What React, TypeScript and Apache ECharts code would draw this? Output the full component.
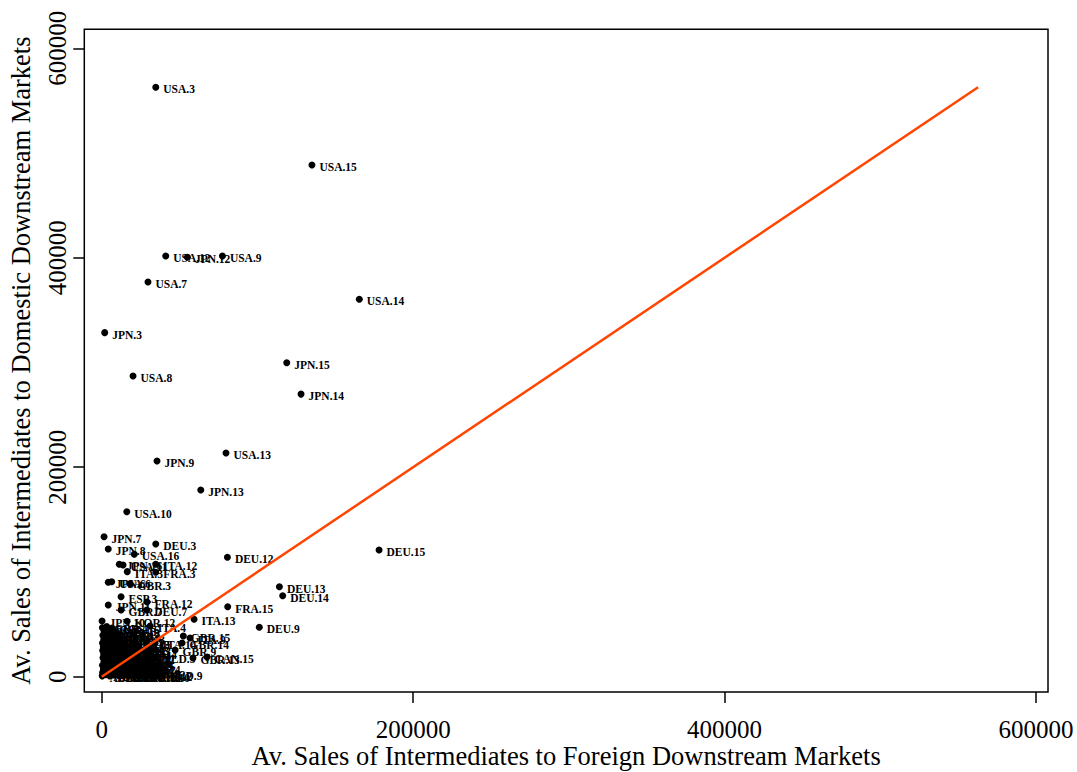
import { useEffect, useRef } from "react";
import * as echarts from "echarts";

// Labelled outliers (industry = country.sector)
const outlierLabels = [
  "USA.3", "USA.15", "USA.12", "JPN.12", "USA.9", "USA.7", "JPN.3", "USA.8",
  "JPN.15", "JPN.14", "USA.14", "USA.13", "JPN.9", "JPN.13", "USA.10", "DEU.15",
  "DEU.12", "DEU.13", "DEU.14", "FRA.15", "DEU.9", "ITA.13", "JPN.7", "JPN.8",
  "DEU.3", "USA.16", "JPN.16", "USA.11", "ITA.12", "ITA.3", "FRA.3", "JPN.6",
  "USA.6", "GBR.3", "ESP.3", "FRA.12", "JPN.11", "GBR.7", "DEU.7", "JPN.10",
  "KOR.12", "ITA.4", "GBR.15", "ITA.9", "ITA.14", "GBR.14", "GBR.9", "NLD.5",
  "GBR.13", "CAN.15", "NLD.9",
];
const outlierForeign = [
  34700, 135000, 41100, 55000, 77500, 29700, 1900, 20100,
  118800, 128000, 165400, 79800, 35500, 63600, 16100, 178100,
  80700, 114100, 116200, 80900, 101200, 59300, 1500, 4200,
  34700, 20900, 11300, 13700, 34700, 16400, 34700, 4200,
  6400, 18200, 12400, 29100, 4200, 12400, 28900, 200,
  16300, 31100, 52400, 56700, 34200, 51600, 47100, 34200,
  58600, 67600, 38700,
];
const outlierDomestic = [
  562800, 488600, 401700, 400400, 401700, 376800, 328500, 287100,
  299800, 269800, 360300, 213600, 206000, 178300, 157500, 121000,
  114000, 85900, 77300, 66800, 47200, 54800, 133700, 121900,
  126700, 116900, 107300, 106700, 107300, 100300, 99700, 90100,
  90700, 88500, 76400, 71300, 68500, 63700, 63700, 53100,
  53000, 48400, 38900, 36900, 32200, 32200, 25500, 18800,
  17900, 18800, 2600,
];

// Dense cluster near the origin
const clusterLabels = [
  "AUS.3", "AUT.9", "BEL.12", "BRA.4", "CZE.13", "CHN.6", "DNK.13", "TUR.16", "FIN.12", "FRA.10", "IRL.12",
  "TWN.9", "HUN.5", "BEL.3", "POL.6", "CAN.8", "RUS.12", "PRT.3", "MEX.9", "IDN.12",
  "AUS.9", "AUT.12", "GRC.3", "BRA.13", "CAN.9", "CHN.12", "DNK.7", "ESP.14",
  "IND.13", "SVK.12", "BEL.13", "BRA.12", "CAN.12", "CHN.13", "DNK.9", "ESP.9",
  "AUS.12", "AUT.13", "GRC.12", "KOR.6", "SWE.14", "TUR.4", "IND.9",
  "SVN.9", "AUT.3", "BEL.9", "BRA.3", "CAN.13", "CHN.9", "ESP.12",
  "AUS.13", "AUT.14", "BEL.14", "BRA.14", "CAN.14", "CHN.14",
  "AUS.14", "POL.12", "MEX.12", "TWN.12", "KOR.9", "ESP.13",
  "AUS.15", "AUT.15", "BEL.15", "BRA.15", "CHN.15",
  "IDN.3", "ROM.12", "IRL.9", "SWE.12", "KOR.13",
  "TUR.12", "RUS.9", "MEX.13", "NLD.13",
  "TWN.13", "IND.12", "KOR.14", "ESP.15",
  "CAN.3", "SWE.13", "NLD.12",
  "JPN.4", "GBR.4", "CHN.16",
];
const clusterForeign = [
  300, 2500, 5200, 8100, 11000, 14200, 17500, 20800, 24000, 27500, 31000,
  600, 3400, 6300, 9400, 12600, 15900, 19300, 22600, 26200,
  1100, 4000, 7200, 10500, 13800, 17100, 20400, 23700,
  500, 3100, 6000, 9200, 12400, 15600, 19000, 22300,
  1400, 4300, 7500, 10800, 14100, 17400, 20700,
  800, 3700, 6800, 10100, 13300, 16600, 19900,
  1200, 4600, 7900, 11300, 14600, 17800,
  600, 3500, 6700, 9900, 13200, 16400,
  1000, 4100, 7300, 10600, 13900,
  500, 3300, 6500, 9800, 13000,
  1300, 4500, 7800, 11000,
  700, 3800, 7000, 10200,
  1500, 4700, 8000,
  400, 3200, 6600,
];
const clusterDomestic = [
  800, 1800, 600, 2100, 900, 1600, 500, 1900, 1100, 700, 1500,
  4200, 5100, 3900, 4800, 3600, 5200, 4100, 4700, 3800,
  7600, 8500, 7300, 8800, 7700, 8300, 7100, 8600,
  11000, 12200, 10800, 11900, 11200, 12400, 10900, 11700,
  14600, 15600, 14300, 15400, 14800, 15900, 14500,
  18100, 19200, 17800, 18900, 18300, 19400, 18000,
  21600, 22700, 21400, 22500, 21900, 23000,
  25100, 26300, 24900, 26000, 25400, 26500,
  28700, 29800, 28400, 29500, 28900,
  32100, 33400, 32000, 33000, 32400,
  35700, 36800, 35500, 36600,
  39600, 40700, 39300, 40400,
  43200, 44300, 42900,
  46800, 47900, 46500,
];

const xTicks = [0, 200000, 400000, 600000];
const yTicks = [0, 200000, 400000, 600000];

const xTitle = "Av. Sales of Intermediates to Foreign Downstream Markets";
const yTitle = "Av. Sales of Intermediates to Domestic Downstream Markets";

const FONT = "'Liberation Serif', 'Times New Roman', serif";

export default function App() {
  const ref = useRef<HTMLDivElement>(null);

  useEffect(() => {
    if (!ref.current) return;
    const chart = echarts.init(ref.current, null, { renderer: "svg" });

    const toItems = (labels: string[], xs: number[], ys: number[]) =>
      labels.map((name, i) => ({ name, value: [xs[i], ys[i]] }));

    const allDomestic = [...outlierDomestic, ...clusterDomestic];
    const lineEnd = Math.max(...allDomestic);

    const pointLabel = {
      show: true,
      position: "right" as const,
      distance: 4,
      offset: [0, 2],
      formatter: "{b}",
      fontFamily: FONT,
      fontSize: 11.5,
      fontWeight: "bold" as const,
      color: "#000",
    };

    const plain = (v: number) => String(v);

    const axisCommon = {
      type: "value" as const,
      splitLine: { show: false },
      axisLine: { show: false, onZero: false },
      nameLocation: "middle" as const,
      nameMoveOverlap: false,
      nameTextStyle: { fontFamily: FONT, fontSize: 26.5, color: "#000" },
    };

    chart.setOption({
      animation: false,
      backgroundColor: "#fff",
      grid: {
        left: 84.3,
        right: 29,
        top: 29.3,
        bottom: 80,
        containLabel: false,
        outerBoundsMode: "none",
        show: true,
        borderColor: "#000",
        borderWidth: 1.5,
        backgroundColor: "transparent",
      },
      xAxis: {
        ...axisCommon,
        min: -11200,
        max: 607700,
        name: xTitle,
        nameGap: 50,
        axisTick: {
          show: true,
          length: 11,
          customValues: xTicks,
          lineStyle: { color: "#000", width: 1.5 },
        },
        axisLabel: {
          customValues: xTicks,
          formatter: plain,
          fontFamily: FONT,
          fontSize: 25,
          color: "#000",
          margin: 25,
        },
      },
      yAxis: {
        ...axisCommon,
        min: -14600,
        max: 618100,
        name: yTitle,
        nameGap: 50,
        axisTick: {
          show: true,
          length: 11,
          customValues: yTicks,
          lineStyle: { color: "#000", width: 1.5 },
        },
        axisLabel: {
          customValues: yTicks,
          formatter: plain,
          fontFamily: FONT,
          fontSize: 25,
          color: "#000",
          rotate: 90,
          margin: 14,
        },
      },
      series: [
        {
          type: "scatter",
          symbolSize: 7,
          itemStyle: { color: "#000", opacity: 1 },
          label: pointLabel,
          silent: true,
          data: toItems(clusterLabels, clusterForeign, clusterDomestic),
          z: 2,
        },
        {
          type: "scatter",
          symbolSize: 7,
          itemStyle: { color: "#000", opacity: 1 },
          label: pointLabel,
          silent: true,
          data: toItems(outlierLabels, outlierForeign, outlierDomestic),
          z: 3,
        },
        {
          type: "line",
          data: [
            [0, 0],
            [lineEnd, lineEnd],
          ],
          symbol: "none",
          silent: true,
          lineStyle: { color: "#FF4500", width: 2.5 },
          z: 5,
        },
      ],
    });

    return () => chart.dispose();
  }, []);

  return (
    <div
      ref={ref}
      style={{
        position: "fixed",
        left: 0,
        top: 0,
        width: 1077,
        height: 772,
        background: "#fff",
      }}
    />
  );
}
